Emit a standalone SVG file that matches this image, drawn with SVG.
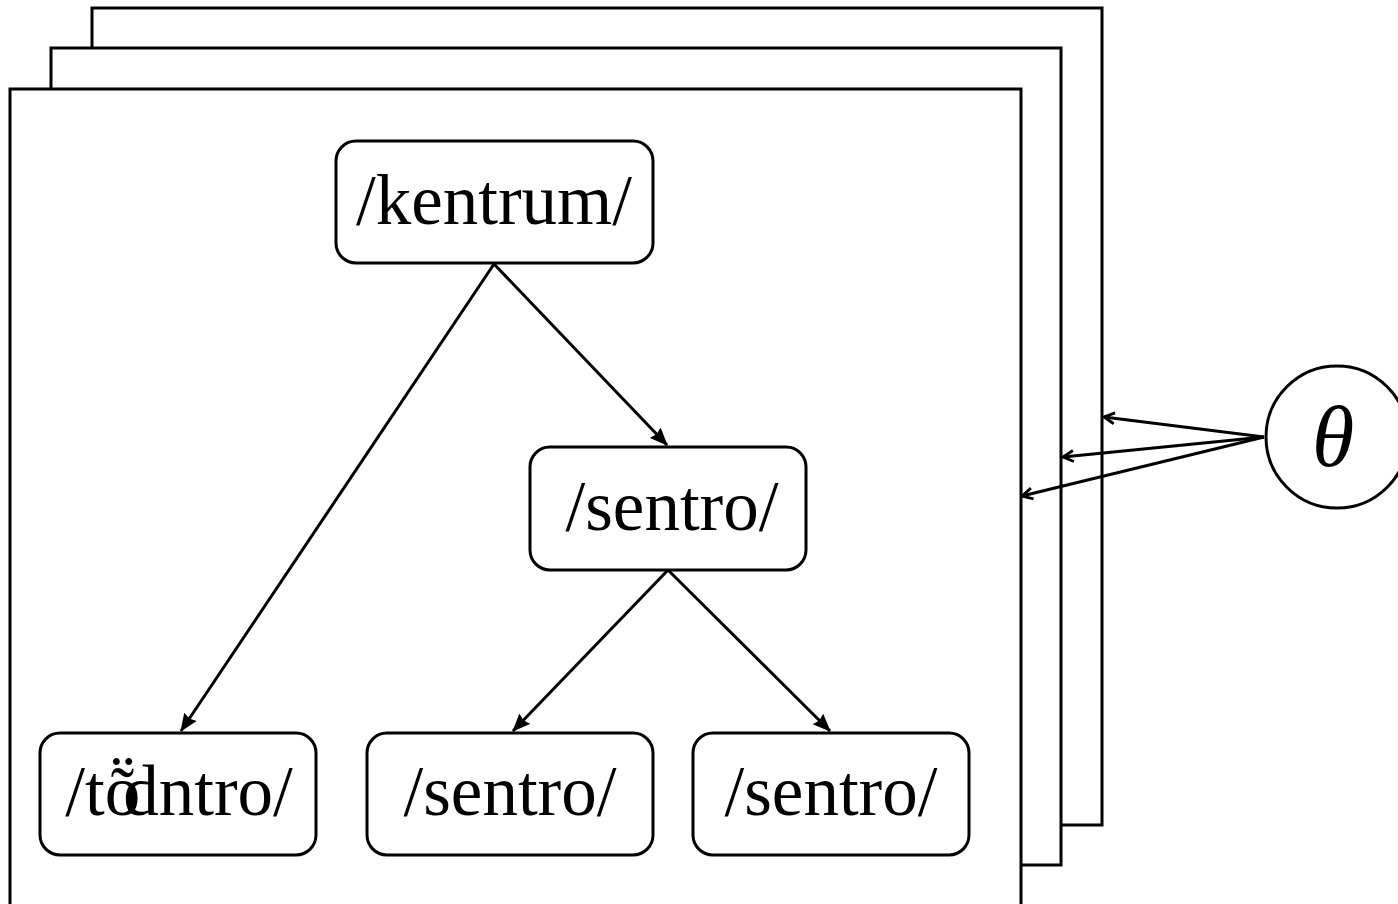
<svg xmlns="http://www.w3.org/2000/svg" width="1398" height="904" viewBox="0 0 1398 904">
<style>
.frame{fill:#fff;stroke:#000;stroke-width:3}
.node rect{fill:#fff;stroke:#000;stroke-width:3}
.lbl{font-family:"Liberation Serif","Times New Roman",serif;font-size:71px;fill:#000;text-anchor:middle}
.edge{stroke:#000;stroke-width:3;fill:none}
</style>
<defs>
<marker id="ah" viewBox="0 0 18 16" refX="17" refY="8" markerWidth="18" markerHeight="16" markerUnits="userSpaceOnUse" orient="auto">
<path d="M0,0.5 L18,8 L0,15.5 L2,8 Z" fill="#000"/>
</marker>
<marker id="ao" viewBox="0 0 14 14" refX="12.5" refY="7" markerWidth="14" markerHeight="14" markerUnits="userSpaceOnUse" orient="auto">
<path d="M2,1.5 L12.5,7 L2,12.5" fill="none" stroke="#000" stroke-width="2.8"/>
</marker>
</defs>
<rect width="1398" height="904" fill="#fff"/>
<g id="frames">
<rect class="frame" x="92" y="8" width="1010" height="817"/>
<rect class="frame" x="51" y="48" width="1010" height="817"/>
<rect class="frame" x="10" y="89" width="1011" height="830"/>
</g>
<g id="connectors">
<line class="edge" x1="494" y1="264" x2="181" y2="731" marker-end="url(#ah)"/>
<line class="edge" x1="494" y1="264" x2="667" y2="445" marker-end="url(#ah)"/>
<line class="edge" x1="668" y1="570" x2="513" y2="731" marker-end="url(#ah)"/>
<line class="edge" x1="668" y1="570" x2="830" y2="731" marker-end="url(#ah)"/>
<line class="edge" x1="1264" y1="437" x2="1104" y2="417" marker-end="url(#ao)"/>
<line class="edge" x1="1264" y1="437" x2="1063" y2="457" marker-end="url(#ao)"/>
<line class="edge" x1="1264" y1="437" x2="1022" y2="496" marker-end="url(#ao)"/>
</g>
<g id="node-kentrum" class="node">
<rect x="336" y="141" width="317" height="122" rx="20"/>
<text class="lbl" x="494" y="224">/kentrum/</text>
</g>
<g id="node-sentro-mid" class="node">
<rect x="530" y="447" width="276" height="123" rx="20"/>
<text class="lbl" x="672" y="530">/sentro/</text>
</g>
<g id="node-tsentro" class="node">
<rect x="40" y="733" width="276" height="122" rx="20"/>
<text class="lbl" x="179" y="815" dx="0 0 0 -17">/tṏdntro/</text>
</g>
<g id="node-sentro-b1" class="node">
<rect x="367" y="733" width="286" height="122" rx="20"/>
<text class="lbl" x="510" y="815">/sentro/</text>
</g>
<g id="node-sentro-b2" class="node">
<rect x="693" y="733" width="276" height="122" rx="20"/>
<text class="lbl" x="831" y="815">/sentro/</text>
</g>
<g id="node-theta">
<circle cx="1337" cy="437" r="71" fill="#fff" stroke="#000" stroke-width="3"/>
<text x="1333" y="466" font-family="Liberation Serif, serif" font-style="italic" font-size="86" text-anchor="middle">θ</text>
</g>
</svg>
